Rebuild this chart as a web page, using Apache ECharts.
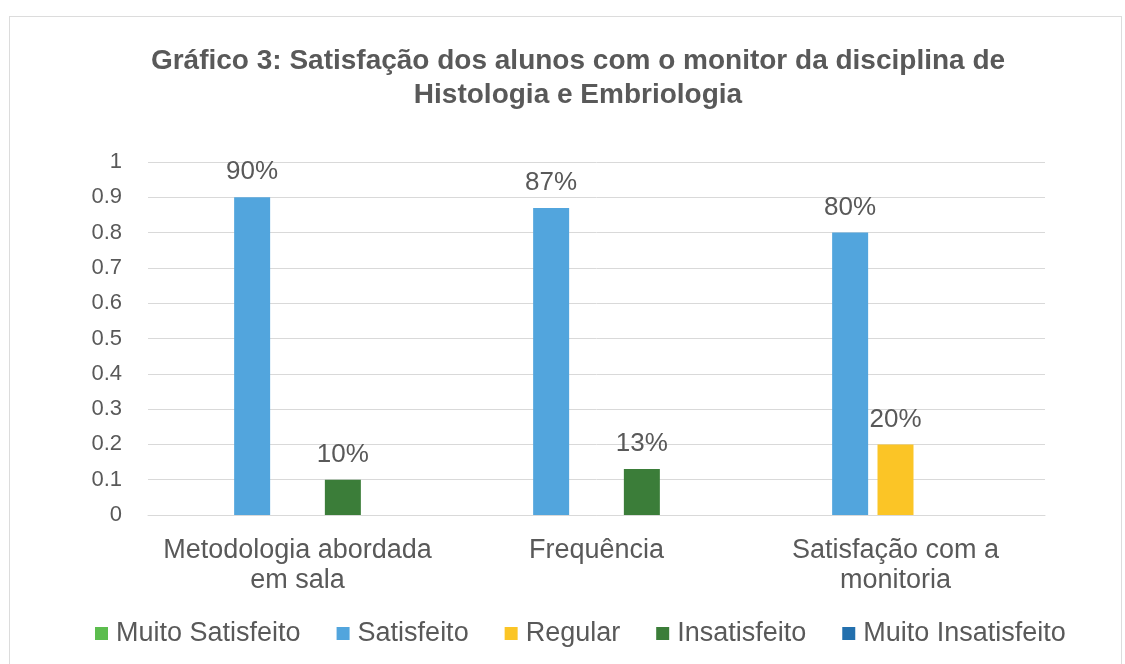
<!DOCTYPE html>
<html>
<head>
<meta charset="utf-8">
<script src="https://cdn.jsdelivr.net/npm/echarts@6/dist/echarts.min.js"></script>
<style>
html,body{margin:0;padding:0;background:#fff;}
#frame{position:absolute;left:9px;top:16px;width:1113px;height:660px;border:1px solid #dcdcdc;box-sizing:border-box;}
#chart{position:absolute;left:0;top:0;width:1125px;height:664px;}
</style>
</head>
<body>
<div id="frame"></div>
<div id="chart"></div>
<script>
var categories = ['Metodologia abordada\nem sala', 'Frequência', 'Satisfação com a\nmonitoria'];
var seriesNames = ['Muito Satisfeito', 'Satisfeito', 'Regular', 'Insatisfeito', 'Muito Insatisfeito'];
var muitoSatisfeito = [0, 0, 0];
var satisfeito = [0.90, 0.87, 0.80];
var regular = [0, 0, 0.20];
var insatisfeito = [0.10, 0.13, 0];
var muitoInsatisfeito = [0, 0, 0];
var colors = ['#5cbd4e', '#52a5dd', '#fbc526', '#3b7d39', '#2370ae'];
var values = [muitoSatisfeito, satisfeito, regular, insatisfeito, muitoInsatisfeito];

var font = 'Liberation Sans, Arial, sans-serif';
var textColor = '#595959';

var chart = echarts.init(document.getElementById('chart'));
var series = seriesNames.map(function (name, i) {
  return {
    name: name,
    type: 'bar',
    data: values[i],
    barWidth: 36,
    barGap: '26%',
    itemStyle: { color: colors[i] },
    label: {
      show: true,
      position: 'top',
      distance: 12,
      color: textColor,
      fontSize: 26,
      fontFamily: font,
      formatter: function (p) { return p.value ? Math.round(p.value * 100) + '%' : ''; }
    }
  };
});

chart.setOption({
  animation: false,
  backgroundColor: 'transparent',
  title: {
    text: 'Gráfico 3: Satisfação dos alunos com o monitor da disciplina de\nHistologia e Embriologia',
    left: 573,
    textAlign: 'center',
    top: 39,
    textStyle: { color: textColor, fontSize: 28, fontWeight: 'bold', fontFamily: font, lineHeight: 34 }
  },
  legend: {
    data: seriesNames,
    left: 90,
    top: 615,
    itemWidth: 13,
    itemHeight: 13,
    itemGap: 36,
    icon: 'rect',
    textStyle: { color: textColor, fontSize: 27, fontFamily: font, padding: [0, 0, 0, 3] }
  },
  grid: { left: 148, right: 80, top: 162, bottom: 149, containLabel: false },
  xAxis: {
    type: 'category',
    data: categories,
    axisLine: { lineStyle: { color: '#d9d9d9' } },
    axisTick: { show: false },
    axisLabel: { color: textColor, fontSize: 27, fontFamily: font, lineHeight: 30, margin: 21, interval: 0 },
    barCategoryGap: '27%'
  },
  yAxis: {
    type: 'value',
    min: 0,
    max: 1,
    interval: 0.1,
    axisLine: { show: false },
    axisTick: { show: false },
    splitLine: { lineStyle: { color: '#d9d9d9' } },
    axisLabel: {
      color: textColor, fontSize: 22, fontFamily: font, margin: 26,
      formatter: function (v) { return String(Math.round(v * 10) / 10); }
    }
  },
  series: series
});
</script>
</body>
</html>
